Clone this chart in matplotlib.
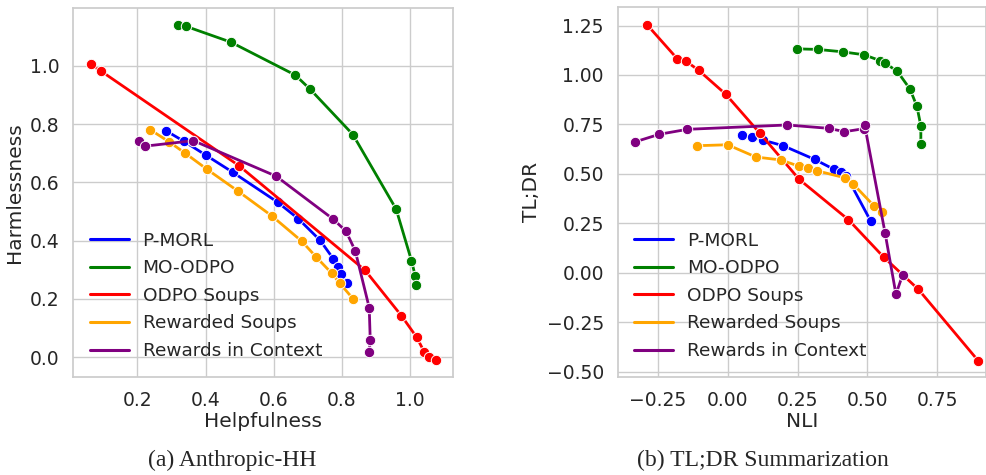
import matplotlib
matplotlib.use('Agg')
import matplotlib.pyplot as plt
import seaborn as sns

# Anthropic-HH (Helpfulness, Harmlessness) per method
hh_pmorl_x = [0.285, 0.336, 0.401, 0.479, 0.611, 0.672, 0.736, 0.775, 0.787, 0.798, 0.814]
hh_pmorl_y = [0.776, 0.741, 0.693, 0.635, 0.532, 0.475, 0.401, 0.337, 0.309, 0.285, 0.254]
hh_moodpo_x = [0.320, 0.343, 0.474, 0.663, 0.707, 0.832, 0.959, 1.004, 1.015, 1.018]
hh_moodpo_y = [1.141, 1.135, 1.081, 0.968, 0.919, 0.764, 0.508, 0.331, 0.279, 0.248]
hh_soups_x = [0.063, 0.094, 0.498, 0.868, 0.974, 1.019, 1.041, 1.056, 1.075]
hh_soups_y = [1.005, 0.981, 0.657, 0.298, 0.143, 0.069, 0.019, 0.000, -0.010]
hh_rs_x = [0.237, 0.294, 0.340, 0.405, 0.496, 0.594, 0.682, 0.725, 0.770, 0.794, 0.833]
hh_rs_y = [0.781, 0.738, 0.700, 0.644, 0.569, 0.485, 0.398, 0.343, 0.288, 0.253, 0.200]
hh_ric_x = [0.206, 0.222, 0.364, 0.607, 0.775, 0.812, 0.839, 0.880, 0.883, 0.880]
hh_ric_y = [0.743, 0.724, 0.743, 0.621, 0.473, 0.432, 0.365, 0.170, 0.059, 0.017]

# TL;DR (NLI, TL;DR) per method
tl_pmorl_x = [0.051, 0.086, 0.125, 0.199, 0.311, 0.380, 0.404, 0.425, 0.511]
tl_pmorl_y = [0.698, 0.686, 0.671, 0.642, 0.573, 0.523, 0.508, 0.490, 0.263]
tl_moodpo_x = [0.249, 0.323, 0.411, 0.488, 0.546, 0.564, 0.607, 0.652, 0.677, 0.691, 0.691]
tl_moodpo_y = [1.132, 1.129, 1.117, 1.102, 1.072, 1.059, 1.018, 0.929, 0.841, 0.742, 0.649]
tl_soups_x = [-0.288, -0.180, -0.149, -0.103, -0.007, 0.115, 0.256, 0.432, 0.558, 0.682, 0.896]
tl_soups_y = [1.254, 1.082, 1.070, 1.023, 0.903, 0.706, 0.472, 0.268, 0.079, -0.084, -0.445]
tl_rs_x = [-0.111, 0.000, 0.101, 0.191, 0.254, 0.288, 0.318, 0.419, 0.450, 0.524, 0.552]
tl_rs_y = [0.642, 0.647, 0.585, 0.570, 0.539, 0.529, 0.516, 0.480, 0.447, 0.337, 0.305]
tl_ric_x = [-0.332, -0.244, -0.144, 0.213, 0.362, 0.418, 0.486, 0.490, 0.563, 0.602, 0.626]
tl_ric_y = [0.661, 0.700, 0.725, 0.747, 0.730, 0.713, 0.728, 0.747, 0.202, -0.109, -0.010]

labels = ['P-MORL', 'MO-ODPO', 'ODPO Soups', 'Rewarded Soups', 'Rewards in Context']
colors = ['blue', 'green', 'red', 'orange', 'purple']

hh_series = [(hh_pmorl_x, hh_pmorl_y), (hh_moodpo_x, hh_moodpo_y), (hh_soups_x, hh_soups_y),
             (hh_rs_x, hh_rs_y), (hh_ric_x, hh_ric_y)]
tl_series = [(tl_pmorl_x, tl_pmorl_y), (tl_moodpo_x, tl_moodpo_y), (tl_soups_x, tl_soups_y),
             (tl_rs_x, tl_rs_y), (tl_ric_x, tl_ric_y)]

sns.set_style('whitegrid')
plt.rcParams['font.family'] = ['DejaVu Sans']

fig = plt.figure(figsize=(9.87, 4.75), dpi=100)
ax1 = fig.add_axes([0.0743, 0.2069, 0.3844, 0.7756])
ax2 = fig.add_axes([0.6258, 0.2069, 0.3732, 0.7777])

def draw(ax, series, xlabel, ylabel, xlim, ylim, xticks, yticks, fmt):
    for (xs, ys), lab, c in zip(series, labels, colors):
        ax.plot(xs, ys, color=c, lw=2.0, label=lab)
        ax.plot(xs, ys, 'o', color=c, ms=7.5, mec='white', mew=0.7)
    ax.set_xlim(*xlim)
    ax.set_ylim(*ylim)
    ax.set_xticks(xticks)
    ax.set_yticks(yticks)
    ax.set_xticklabels([fmt.format(v).replace('-', '\u2212') for v in xticks])
    ax.set_yticklabels([fmt.format(v).replace('-', '\u2212') for v in yticks])
    ax.tick_params(length=0, pad=10, labelsize=13.5, colors='.15')
    ax.set_xlabel(xlabel, fontsize=14.5, color='.15', labelpad=2)
    ax.set_ylabel(ylabel, fontsize=14.5, color='.15', labelpad=4)
    ax.grid(color='#cccccc', lw=1.0)
    for s in ax.spines.values():
        s.set_color('#cccccc')
        s.set_linewidth(1.25)
    ax.legend(loc='lower left', frameon=False, fontsize=13.3, handlelength=2.1,
              handletextpad=0.75, labelspacing=0.52)
    for line in ax.get_legend().get_lines():
        line.set_linewidth(2.2)

draw(ax1, hh_series, 'Helpfulness', 'Harmlessness', (0.012, 1.125), (-0.067, 1.197),
     [0.2, 0.4, 0.6, 0.8, 1.0], [0.0, 0.2, 0.4, 0.6, 0.8, 1.0], '{:.1f}')
draw(ax2, tl_series, 'NLI', 'TL;DR', (-0.393, 0.924), (-0.526, 1.342),
     [-0.25, 0.0, 0.25, 0.5, 0.75], [-0.5, -0.25, 0.0, 0.25, 0.5, 0.75, 1.0, 1.25], '{:.2f}')

fig.text(232.5 / 987, 1 - 460 / 475, '(a) Anthropic-HH', ha='center', va='center',
         family='Liberation Serif', fontsize=17)
fig.text(763 / 987, 1 - 460 / 475, '(b) TL;DR Summarization', ha='center', va='center',
         family='Liberation Serif', fontsize=17)

fig.savefig('out.png', dpi=100)
